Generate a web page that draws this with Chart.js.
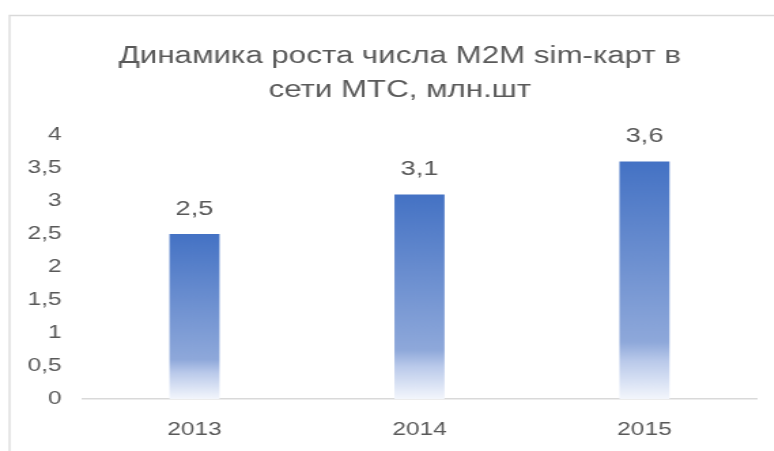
<!DOCTYPE html>
<html>
<head>
<meta charset="utf-8">
<script src="https://cdn.jsdelivr.net/npm/chart.js@4"></script>
<style>
  body { margin: 0; background: #fff; overflow: hidden; }
  #wrap { position: relative; width: 774px; height: 451px; }
  /* the reference is stretched sideways, so draw narrow and widen */
  #m2mChart { transform: scaleX(1.36); transform-origin: 0 0; }
</style>
</head>
<body>
<div id="wrap"><canvas id="m2mChart" width="569" height="451"></canvas></div>
<script>
const years = ['2013', '2014', '2015'];
const simCards = [2.5, 3.1, 3.6];
const titleLines = ['Динамика роста числа M2M sim-карт в', 'сети МТС, млн.шт'];

const textColor = '#595959';
const lineColor = '#d9d9d9';
const fontFamily = '"Liberation Sans", Arial, sans-serif';

function fmt(v) {
    return String(v).replace('.', ',');
}

// gradient for each bar, from its top down to the zero line
function barGradient(context) {
    const chart = context.chart;
    if (!chart.chartArea || !chart.scales.y) return '#4472c4';
    const y = chart.scales.y;
    const top = y.getPixelForValue(context.raw);
    const bottom = y.getPixelForValue(0);
    const g = chart.ctx.createLinearGradient(0, top, 0, bottom);
    g.addColorStop(0, '#4472c4');
    g.addColorStop(0.76, '#8ea8da');
    g.addColorStop(0.84, '#b9c9ea');
    g.addColorStop(1, '#f3f6fc');
    return g;
}

const framePlugin = {
    id: 'frame',
    beforeDraw(chart) {
        const ctx = chart.ctx;
        ctx.save();
        ctx.strokeStyle = lineColor;
        ctx.lineWidth = 1.3;
        ctx.beginPath();
        ctx.moveTo(7, 451);
        ctx.lineTo(7, 15.5);
        ctx.lineTo(chart.width, 15.5);
        ctx.stroke();
        ctx.restore();
    }
};

const titlePlugin = {
    id: 'twoLineTitle',
    afterDraw(chart) {
        const ctx = chart.ctx;
        ctx.save();
        ctx.fillStyle = textColor;
        ctx.font = '23px ' + fontFamily;
        ctx.textAlign = 'center';
        ctx.textBaseline = 'middle';
        ctx.fillText(titleLines[0], 294, 57);
        ctx.fillText(titleLines[1], 294, 91);
        ctx.restore();
    }
};

const valueLabels = {
    id: 'valueLabels',
    afterDatasetsDraw(chart) {
        const ctx = chart.ctx;
        const meta = chart.getDatasetMeta(0);
        ctx.save();
        ctx.fillStyle = textColor;
        ctx.font = '20px ' + fontFamily;
        ctx.textAlign = 'center';
        ctx.textBaseline = 'middle';
        meta.data.forEach((bar, i) => {
            ctx.fillText(fmt(simCards[i]), bar.x, bar.y - 25);
        });
        ctx.restore();
    }
};

new Chart(document.getElementById('m2mChart'), {
    type: 'bar',
    data: {
        labels: years,
        datasets: [{
            data: simCards,
            backgroundColor: barGradient,
            borderWidth: 0,
            categoryPercentage: 0.5,
            barPercentage: 0.445
        }]
    },
    options: {
        responsive: false,
        animation: false,
        layout: { padding: { left: 20, right: 12.4, top: 135, bottom: 8 } },
        plugins: {
            legend: { display: false },
            tooltip: { enabled: false },
            title: { display: false }
        },
        scales: {
            x: {
                afterFit(scale) { scale.height = 44; },
                grid: { display: false, drawTicks: false },
                border: { color: lineColor, width: 1.5 },
                ticks: {
                    color: textColor,
                    padding: 20,
                    font: { family: fontFamily, size: 18 }
                }
            },
            y: {
                min: 0,
                max: 4,
                afterFit(scale) { scale.width = 40.3; },
                grid: { display: false, drawTicks: false },
                border: { display: false },
                ticks: {
                    stepSize: 0.5,
                    color: textColor,
                    padding: 15,
                    font: { family: fontFamily, size: 18 },
                    callback: v => fmt(v)
                }
            }
        }
    },
    plugins: [framePlugin, titlePlugin, valueLabels]
});
</script>
</body>
</html>
